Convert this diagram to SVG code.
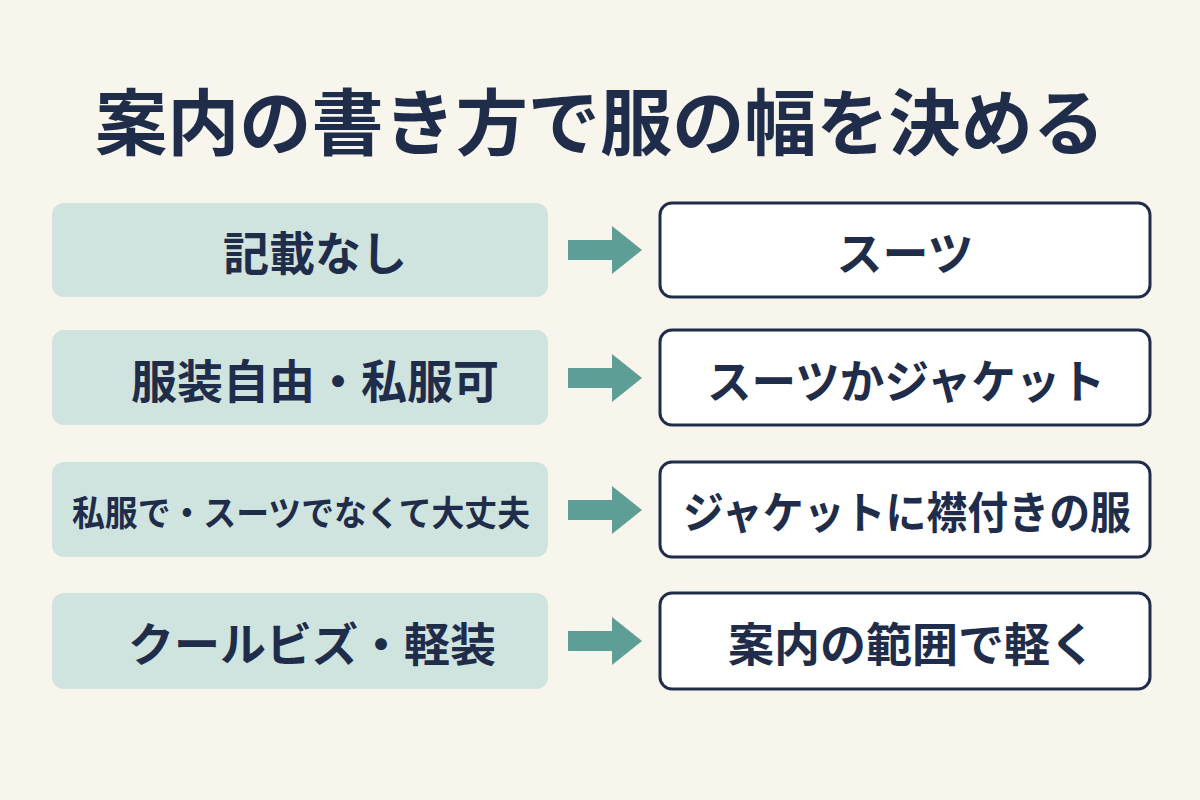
<svg xmlns="http://www.w3.org/2000/svg" width="1200" height="800" viewBox="0 0 1200 800">
<defs><style>
text{font-family:"Noto Sans CJK JP","Noto Sans CJK SC",sans-serif;font-weight:700;fill:#1f2d4a;text-anchor:middle;dominant-baseline:central}
.l{fill:#cfe3df}
.r{fill:#fff;stroke:#1f2d4a;stroke-width:3}
.a{fill:#5e9e96}
</style>
<path id="arr" class="a" d="M568,-10 H612 V-24 L642,0 L612,24 V10 H568 Z"/>
</defs>
<rect width="1200" height="800" fill="#f8f6ec"/>
<text x="600" y="117" font-size="72" textLength="1010" lengthAdjust="spacingAndGlyphs">案内の書き方で服の幅を決める</text>
<g id="row1"><rect class="l" x="52" y="203" width="496" height="94" rx="12"/><text x="315" y="250" font-size="46">記載なし</text></g>
<g id="row2"><rect class="l" x="52" y="330" width="496" height="95" rx="12"/><text x="315" y="378" font-size="46">服装自由・私服可</text></g>
<g id="row3"><rect class="l" x="52" y="462" width="496" height="95" rx="12"/><text x="301" y="510" font-size="35" textLength="458" lengthAdjust="spacingAndGlyphs">私服で・スーツでなくて大丈夫</text></g>
<g id="row4"><rect class="l" x="52" y="593" width="496" height="96" rx="12"/><text x="312" y="641" font-size="46">クールビズ・軽装</text></g>
<g id="res1"><rect class="r" x="660" y="203" width="490" height="94" rx="12"/><text x="905" y="250" font-size="46">スーツ</text></g>
<g id="res2"><rect class="r" x="660" y="330" width="490" height="95" rx="12"/><text x="906" y="378" font-size="46" textLength="398" lengthAdjust="spacingAndGlyphs">スーツかジャケット</text></g>
<g id="res3"><rect class="r" x="660" y="462" width="490" height="95" rx="12"/><text x="907" y="510" font-size="44" textLength="448" lengthAdjust="spacingAndGlyphs">ジャケットに襟付きの服</text></g>
<g id="res4"><rect class="r" x="660" y="593" width="490" height="96" rx="12"/><text x="912" y="641" font-size="46">案内の範囲で軽く</text></g>
<g id="connectors">
<use href="#arr" y="250"/><use href="#arr" y="378"/><use href="#arr" y="510"/><use href="#arr" y="641"/>
</g>
</svg>
